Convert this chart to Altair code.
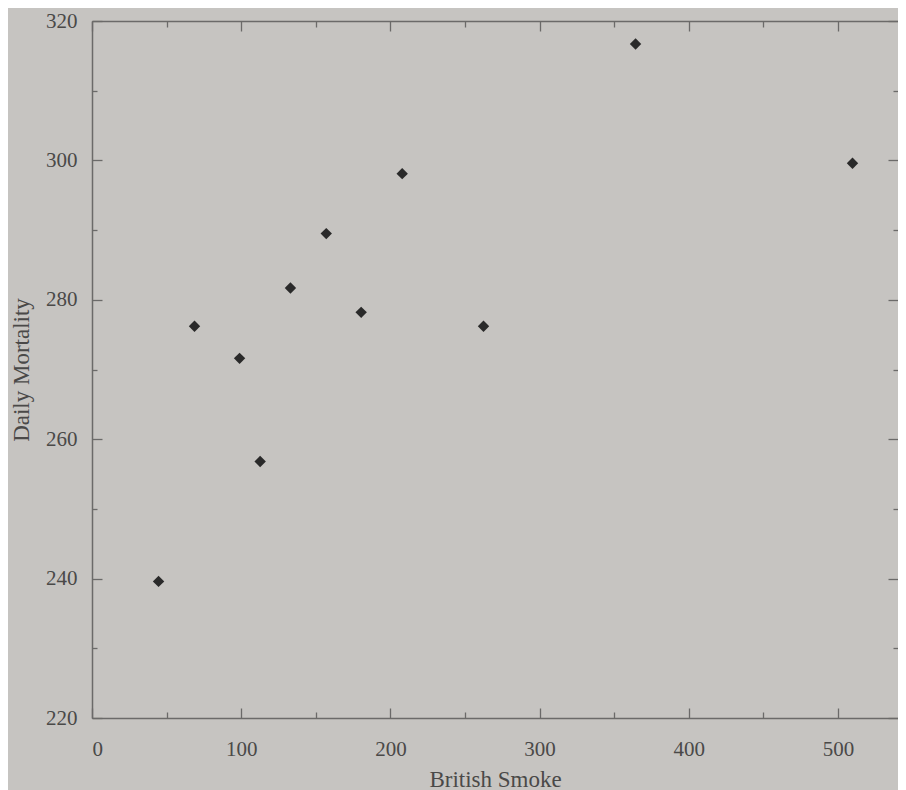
import altair as alt
import pandas as pd

# Data
smoke = [44.6, 68.7, 98.9, 112.7, 133.0, 157.0, 180.4, 207.9, 262.4, 364.3, 509.7]
mortality = [239.6, 276.2, 271.6, 256.8, 281.7, 289.5, 278.2, 298.1, 276.2, 316.7, 299.6]

x_major = [0, 100, 200, 300, 400, 500]
x_minor = [50, 150, 250, 350, 450]
y_major = [220, 240, 260, 280, 300, 320]
y_minor = [230, 250, 270, 290, 310]

df = pd.DataFrame({"smoke": smoke, "mortality": mortality})

X_DOMAIN = [0, 540.2]
Y_DOMAIN = [220, 320]
FONT = "Liberation Serif"
AXIS_COLOR = "#6b6a69"
TEXT_COLOR = "#4a4948"
BG = "#c6c4c1"
MAJ = 10
MIN_X = 6
MIN_Y = 5


def xs(axis):
    return alt.X("smoke:Q", scale=alt.Scale(domain=X_DOMAIN, nice=False, zero=False), axis=axis)


def ys(axis):
    return alt.Y("mortality:Q", scale=alt.Scale(domain=Y_DOMAIN, nice=False, zero=False), axis=axis)


def tick_axis(orient, values, size, domain=False):
    return alt.Axis(
        orient=orient, values=values, domain=domain, domainColor=AXIS_COLOR, domainWidth=1.5,
        labels=False, ticks=True, tickSize=size, offset=-size,
        tickColor=AXIS_COLOR, tickWidth=1.3, grid=False, title=None,
    )


base = alt.Chart(df)

main = base.mark_point(shape="diamond", filled=True, size=130, color="#2a2a2a", opacity=1).encode(
    x=xs(alt.Axis(
        orient="bottom", values=x_major, domain=True, domainColor=AXIS_COLOR, domainWidth=1.5,
        ticks=False, tickSize=0, grid=False, labelPadding=20, labelFont=FONT, labelFontSize=21,
        labelColor=TEXT_COLOR, title="British Smoke", titleFont=FONT, titleFontSize=23,
        titleFontWeight="normal", titleColor=TEXT_COLOR, titlePadding=9,
    )),
    y=ys(alt.Axis(
        orient="left", values=y_major, domain=True, domainColor=AXIS_COLOR, domainWidth=1.5,
        ticks=False, tickSize=0, grid=False, labelPadding=15, labelFont=FONT, labelFontSize=21,
        labelColor=TEXT_COLOR, title="Daily Mortality", titleFont=FONT, titleFontSize=23,
        titleFontWeight="normal", titleColor=TEXT_COLOR, titlePadding=12,
    )),
)


def ghost(xaxis, yaxis):
    return base.mark_point(opacity=0).encode(x=xs(xaxis), y=ys(yaxis))


l2 = ghost(tick_axis("bottom", x_major, MAJ), tick_axis("left", y_major, MAJ))
l3 = ghost(tick_axis("bottom", x_minor, MIN_X), tick_axis("left", y_minor, MIN_Y))
l4 = ghost(
    alt.Axis(orient="top", values=x_major, domain=True, domainColor=AXIS_COLOR, domainWidth=1.5,
             labels=False, ticks=False, tickSize=0, grid=False, title=None),
    tick_axis("right", y_major, MAJ),
)
l5 = ghost(tick_axis("top", x_major, MAJ), tick_axis("right", y_minor, MIN_Y))
l6 = ghost(tick_axis("top", x_minor, MIN_X), None)

chart = (
    alt.layer(main, l2, l3, l4, l5, l6)
    .resolve_scale(x="independent", y="independent")
    .properties(
        width=806,
        height=697,
        background=BG,
        autosize=alt.AutoSizeParams(type="none"),
        padding={"left": 84, "top": 13, "right": 0, "bottom": 72},
    )
    .configure_view(strokeWidth=0)
)

chart.save("out.html", embed_options={"renderer": "svg", "actions": False})
